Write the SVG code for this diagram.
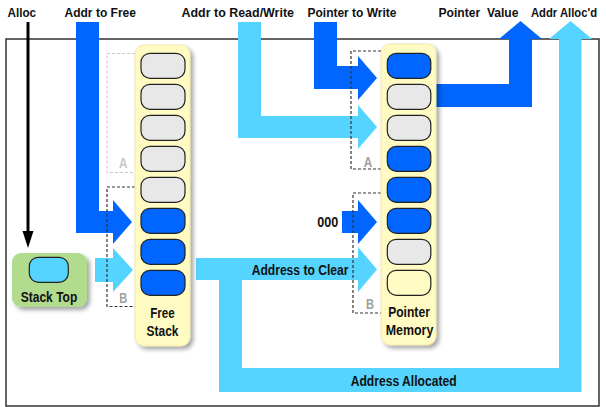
<svg xmlns="http://www.w3.org/2000/svg" width="606" height="407" viewBox="0 0 606 407">
<defs>
<style>
text{font-family:"Liberation Sans",Arial,sans-serif;font-weight:bold;fill:#111;}
.top{font-size:13px;}
.lbl{font-size:14px;}
.ab{font-size:14px;fill:#A0A0A0;}
.dark{fill:#0066FF;}
.light{fill:#55D4FF;}
.col{fill:#FFFBC2;stroke:#EDE3A6;stroke-width:0.8;}
.cell{stroke:#222;stroke-width:1.2;}
.g{fill:#E8E8E8;}
.b{fill:#0066FF;}
.y{fill:#FFFBC2;}
.dash{fill:none;stroke:#333;stroke-width:1.2;stroke-dasharray:3 2;}
.dashl{fill:none;stroke:#C8C8C8;stroke-width:1;stroke-dasharray:3 2;}
</style>
<filter id="sh" x="-20%" y="-10%" width="150%" height="130%">
<feDropShadow dx="3" dy="3" stdDeviation="2" flood-color="#000" flood-opacity="0.35"/>
</filter>
</defs>
<rect x="6" y="39" width="593" height="367" fill="#fff" stroke="#333" stroke-width="1.5"/>

<g id="labels">
<text class="top" x="7.5" y="17" textLength="28.5" lengthAdjust="spacingAndGlyphs">Alloc</text>
<text class="top" x="64.5" y="17" textLength="71.5" lengthAdjust="spacingAndGlyphs">Addr to Free</text>
<text class="top" x="181.5" y="17" textLength="112.5" lengthAdjust="spacingAndGlyphs">Addr to Read/Write</text>
<text class="top" x="307.5" y="17" textLength="89" lengthAdjust="spacingAndGlyphs">Pointer to Write</text>
<text class="top" x="438.5" y="17" textLength="80" lengthAdjust="spacingAndGlyphs" xml:space="preserve">Pointer  Value</text>
<text class="top" x="531" y="17" style="font-size:12.5px" textLength="66" lengthAdjust="spacingAndGlyphs">Addr Alloc'd</text>
</g>

<g id="connectors">
<line x1="28" y1="22" x2="28" y2="233" stroke="#000" stroke-width="3"/>
<polygon points="22.5,231 33.5,231 28,248" fill="#000"/>
<polygon class="dark" points="76,22 99,22 99,211 113,211 113,200 132,222 113,244 113,233 76,233"/>
<polygon class="light" points="95,258 113,258 113,248 133,270 113,292 113,282 95,282"/>
<polygon class="light" points="238,22 261,22 261,116 358,116 358,105 377,127 358,149 358,138 238,138"/>
<polygon class="dark" points="314,22 337,22 337,66 358,66 358,56 377,78 358,100 358,89 314,89"/>
<polygon class="dark" points="342,211 358,211 358,200 377,222 358,244 358,233 342,233"/>
<polygon class="light" points="196,258 358,258 358,247 377,269.5 358,292 358,280 196,280"/>
<polygon class="light" points="219,279 242,279 242,368 559,368 559,39 549,39 570.5,21 592,39 581.5,39 581.5,392 219,392"/>
<polygon class="dark" points="430,84 509,84 509,39 499,39 520.5,21 542,39 532,39 532,107 430,107"/>
</g>

<g id="brackets">
<path class="dashl" d="M135,53.5 H107 V172.5 H135"/>
<path class="dash" d="M135,187 H107 V306.5 H135"/>
<path class="dash" d="M381,51 H351 V169 H381"/>
<path class="dash" d="M381,193 H353 V313 H381"/>
<text class="ab" x="123.3" y="167.5" text-anchor="middle" style="fill:#C8C8C8" textLength="8.5" lengthAdjust="spacingAndGlyphs">A</text>
<text class="ab" x="123.3" y="302.5" text-anchor="middle" textLength="8" lengthAdjust="spacingAndGlyphs">B</text>
<text class="ab" x="368" y="166.5" text-anchor="middle" textLength="8.5" lengthAdjust="spacingAndGlyphs">A</text>
<text class="ab" x="370" y="309" text-anchor="middle" textLength="8" lengthAdjust="spacingAndGlyphs">B</text>
</g>

<g id="stack-top">
<rect x="12" y="253" width="75" height="54" rx="9" fill="#B1DC8E" filter="url(#sh)"/>
<rect class="cell" x="29.3" y="257.3" width="39" height="25" rx="9" fill="#55D4FF"/>
<text class="lbl" x="49" y="302" text-anchor="middle" textLength="56.5" lengthAdjust="spacingAndGlyphs">Stack Top</text>
</g>

<g id="free-stack">
<rect class="col" x="135" y="45" width="55" height="301" rx="9" filter="url(#sh)"/>
<rect class="cell g" x="141" y="53.3" width="44" height="25" rx="9"/>
<rect class="cell g" x="141" y="84.3" width="44" height="25" rx="9"/>
<rect class="cell g" x="141" y="115.3" width="44" height="25" rx="9"/>
<rect class="cell g" x="141" y="146.3" width="44" height="25" rx="9"/>
<rect class="cell g" x="141" y="177.3" width="44" height="25" rx="9"/>
<rect class="cell b" x="141" y="208.3" width="44" height="25" rx="9"/>
<rect class="cell b" x="141" y="239.3" width="44" height="25" rx="9"/>
<rect class="cell b" x="141" y="270.3" width="44" height="25" rx="9"/>
<text class="lbl" x="162.5" y="318" text-anchor="middle" textLength="24.5" lengthAdjust="spacingAndGlyphs">Free</text>
<text class="lbl" x="162.5" y="336" text-anchor="middle" textLength="32" lengthAdjust="spacingAndGlyphs">Stack</text>
</g>

<g id="pointer-memory">
<rect class="col" x="381" y="44" width="55" height="301" rx="9" filter="url(#sh)"/>
<rect class="cell b" x="387.3" y="53.3" width="43.5" height="25" rx="9"/>
<rect class="cell g" x="387.3" y="84.3" width="43.5" height="25" rx="9"/>
<rect class="cell g" x="387.3" y="115.3" width="43.5" height="25" rx="9"/>
<rect class="cell b" x="387.3" y="146.3" width="43.5" height="25" rx="9"/>
<rect class="cell b" x="387.3" y="177.3" width="43.5" height="25" rx="9"/>
<rect class="cell b" x="387.3" y="208.3" width="43.5" height="25" rx="9"/>
<rect class="cell g" x="387.3" y="239.3" width="43.5" height="25" rx="9"/>
<rect class="cell y" x="387.3" y="270.3" width="43.5" height="25" rx="9"/>
<text class="lbl" x="409" y="317" text-anchor="middle" textLength="41.7" lengthAdjust="spacingAndGlyphs">Pointer</text>
<text class="lbl" x="409.5" y="335" text-anchor="middle" textLength="47.6" lengthAdjust="spacingAndGlyphs">Memory</text>
</g>

<g id="connector-labels">
<text class="lbl" x="251.7" y="274.5" textLength="96.7" lengthAdjust="spacingAndGlyphs">Address to Clear</text>
<text class="lbl" x="350.7" y="386" textLength="106" lengthAdjust="spacingAndGlyphs">Address Allocated</text>
<text class="lbl" x="317.3" y="226.5" textLength="21" lengthAdjust="spacingAndGlyphs">000</text>
</g>
</svg>
